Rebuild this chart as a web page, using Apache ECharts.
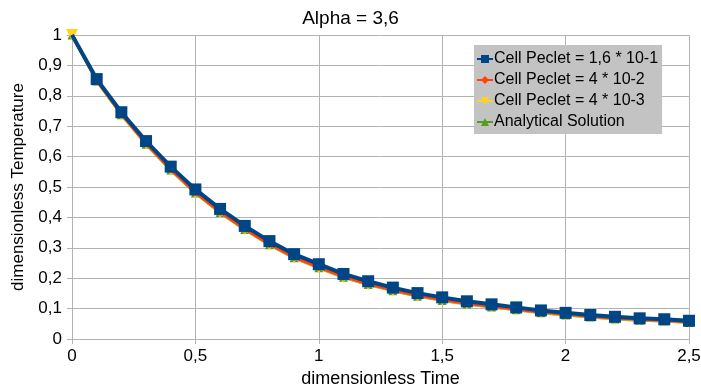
<!DOCTYPE html>
<html><head><meta charset="utf-8">
<script src="https://cdn.jsdelivr.net/npm/echarts@6/dist/echarts.min.js"></script>
<style>html,body{margin:0;padding:0;background:#fff}#c{width:701px;height:385px}</style>
</head><body><div id="c"></div>
<script>
var times = [0,0.1,0.2,0.3,0.4,0.5,0.6,0.7,0.8,0.9,1.0,1.1,1.2,1.3,1.4,1.5,1.6,1.7,1.8,1.9,2.0,2.1,2.2,2.3,2.4,2.5];
var peclet16e1 = [1,0.855,0.746,0.651,0.567,0.492,0.428,0.372,0.322,0.279,0.246,0.214,0.190,0.169,0.151,0.137,0.124,0.114,0.104,0.094,0.086,0.079,0.073,0.068,0.065,0.060];
var peclet4e2 = [1,0.851,0.740,0.643,0.558,0.482,0.418,0.362,0.312,0.269,0.236,0.205,0.181,0.161,0.143,0.129,0.117,0.107,0.098,0.088,0.081,0.074,0.068,0.064,0.061,0.056];
var peclet4e3 = [1,0.850,0.739,0.642,0.557,0.481,0.417,0.361,0.311,0.268,0.235,0.204,0.180,0.160,0.142,0.128,0.116,0.106,0.097,0.087,0.080,0.073,0.067,0.063,0.060,0.055];
var analytical = [1,0.849,0.738,0.641,0.556,0.480,0.416,0.360,0.310,0.267,0.234,0.203,0.179,0.159,0.141,0.127,0.115,0.105,0.096,0.086,0.079,0.072,0.066,0.062,0.059,0.054];
var seriesNames = ['Cell Peclet = 1,6 * 10-1','Cell Peclet = 4 * 10-2','Cell Peclet = 4 * 10-3','Analytical Solution'];

function pairs(arr, hideFirst){
  return times.map(function(t,i){
    var d = {value:[t, arr[i]]};
    if (hideFirst && i===0) d.symbolSize = 0;
    return d;
  });
}
function fmt(v){ return String(+v.toFixed(2)).replace('.', ','); }
var font = 'Liberation Sans, Arial, sans-serif';
var chart = echarts.init(document.getElementById('c'));
chart.setOption({
  animation:false,
  backgroundColor:'#fff',
  title:{text:'Alpha = 3,6', left:'center', top:4, textStyle:{fontFamily:font, fontSize:19, fontWeight:'normal', color:'#000'}},
  grid:{left:72, right:12, top:35, bottom:46, containLabel:false, outerBoundsMode:'none'},
  legend:{
    orient:'vertical', left:474, top:45, backgroundColor:'#c3c3c3', borderRadius:0,
    padding:[6,4,4,2], itemGap:5, itemWidth:16, itemHeight:10,
    textStyle:{fontFamily:font, fontSize:16, color:'#000', padding:[0,0,0,-4]},
    data:seriesNames
  },
  xAxis:{
    type:'value', min:0, max:2.5, interval:0.5,
    name:'dimensionless Time', nameLocation:'middle', nameGap:30,
    nameTextStyle:{fontFamily:font, fontSize:18, color:'#000'},
    axisLine:{show:true, lineStyle:{color:'#b3b3b3'}},
    axisTick:{show:true, length:5, lineStyle:{color:'#b3b3b3'}},
    splitLine:{show:true, lineStyle:{color:'#b3b3b3'}},
    axisLabel:{fontFamily:font, fontSize:17, color:'#000', formatter:fmt, margin:9}
  },
  yAxis:{
    type:'value', min:0, max:1, interval:0.1,
    name:'dimensionless Temperature', nameLocation:'middle', nameGap:45,
    nameTextStyle:{fontFamily:font, fontSize:17, color:'#000'},
    axisLine:{show:true, lineStyle:{color:'#b3b3b3'}},
    axisTick:{show:true, length:5, lineStyle:{color:'#b3b3b3'}},
    splitLine:{show:true, lineStyle:{color:'#b3b3b3'}},
    axisLabel:{fontFamily:font, fontSize:17, color:'#000', formatter:fmt, margin:10}
  },
  series:[
    {name:seriesNames[3], type:'line', data:pairs(analytical), symbol:'triangle', symbolSize:9,
     itemStyle:{color:'#579d1c'}, lineStyle:{width:3, color:'#579d1c'}, z:1},
    {name:seriesNames[2], type:'line', data:pairs(peclet4e3), symbol:'triangle', symbolRotate:180, symbolSize:12,
     itemStyle:{color:'#ffd320'}, lineStyle:{width:3, color:'#ffd320'}, z:2},
    {name:seriesNames[1], type:'line', data:pairs(peclet4e2, true), symbol:'diamond', symbolSize:8,
     itemStyle:{color:'#ff420e'}, lineStyle:{width:3, color:'#ff420e'}, z:3},
    {name:seriesNames[0], type:'line', data:pairs(peclet16e1, true), symbol:'rect', symbolSize:12,
     itemStyle:{color:'#004586'}, lineStyle:{width:4, color:'#004586'}, z:4}
  ]
});
</script></body></html>
